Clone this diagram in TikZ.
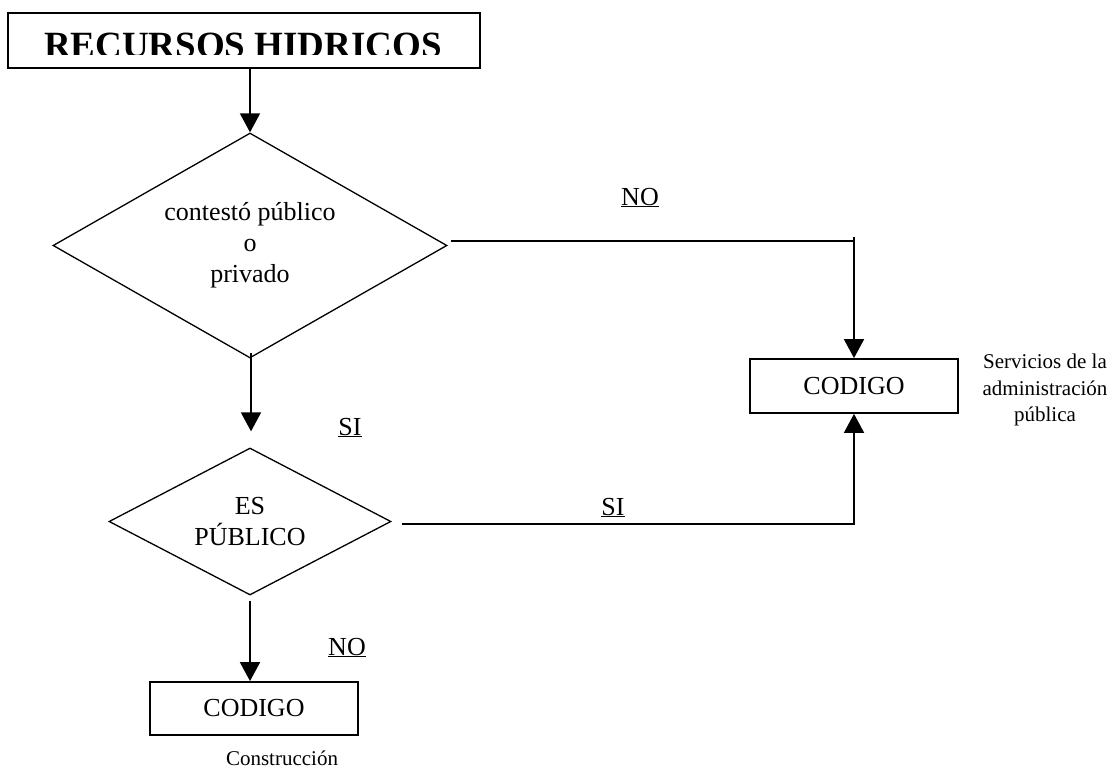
\documentclass[tikz,border=0pt]{standalone}
\usepackage{fontspec}
\setmainfont{Liberation Serif}
\usetikzlibrary{shapes.geometric,arrows.meta,calc}
\begin{document}
\begin{tikzpicture}[x=1pt,y=-1pt,
  conn/.style={line width=1.8pt, -{Triangle[length=19pt,width=20pt]}},
  plain/.style={line width=1.8pt},
  dia/.style={draw, line width=1.3pt, shape=diamond, inner sep=0pt, align=center, font=\fontsize{26}{31}\selectfont},
  boxnode/.style={draw, line width=1.8pt, rectangle, inner sep=0pt, font=\fontsize{26}{31}\selectfont},
  lbl/.style={font=\fontsize{26}{31}\selectfont, inner sep=0pt},
  note/.style={font=\fontsize{21}{26.5}\selectfont, align=center, inner sep=0pt}]
\useasboundingbox (0,0) rectangle (1118,778);

% title
\node[boxnode, line width=2pt, minimum width=472pt, minimum height=55pt,
  path picture={\clip (path picture bounding box.north west) rectangle ([yshift=13pt]path picture bounding box.south east);
     \node[anchor=base, inner sep=0pt, font=\fontsize{37}{40}\selectfont\bfseries]
     at ([xshift=-1pt,yshift=10.5pt]path picture bounding box.south) {RECURSOS HIDRICOS};}]
  (title) at (244,40.5) {};

% decisions
\node[dia, minimum width=394pt, minimum height=225pt, shape aspect=1.74] (d1) at (250,245.5)
  {contestó público\\o\\privado};
\node[dia, minimum width=282pt, minimum height=147pt, shape aspect=1.92] (d2) at (250,521.5)
  {ES\\PÚBLICO};

% code boxes
\node[boxnode, minimum width=208pt, minimum height=54pt] (c1) at (854,386) {CODIGO};
\node[boxnode, minimum width=208pt, minimum height=53pt] (c2) at (254,708.5) {CODIGO};

% connectors
\draw[conn] (title.south -| d1.north) -- (d1.north);
\draw[conn] ([shift={(3,-4.5)}]d1.east) -| (c1.north);
\draw[plain] ([shift={(0,-8.5)}]d1.east -| c1.north) -- ++(0,4);
\draw[conn] ($(d1.south)+(1,-6)$) -- ($(d2.north)+(1,-16)$);
\draw[conn] ([shift={(10,2.5)}]d2.east) -| (c1.south);
\draw[conn] ($(d2.south)+(0,5)$) -- (d2.south |- c2.north);

% labels
\node[lbl, anchor=base] (lno1) at (640,205) {\underline{NO}};
\node[lbl, anchor=base] (lsi1) at (350,435) {\underline{SI}};
\node[lbl, anchor=base] (lsi2) at (613,515) {\underline{SI}};
\node[lbl, anchor=base] (lno2) at (347,655) {\underline{NO}};

% notes
\node[note, anchor=north] (n1) at (1045,354) {Servicios de la\\administración\\pública};
\node[note, anchor=base] (n2) at (282,765) {Construcción};
\end{tikzpicture}
\end{document}
